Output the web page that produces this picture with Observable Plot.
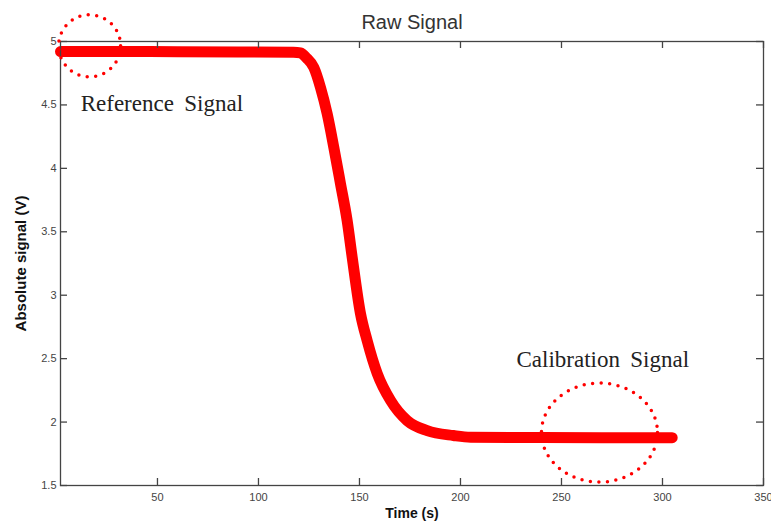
<!DOCTYPE html>
<html>
<head>
<meta charset="utf-8">
<script src="https://cdn.jsdelivr.net/npm/d3@7"></script>
<script src="https://cdn.jsdelivr.net/npm/@observablehq/plot@0.6"></script>
<style>
  html, body { margin: 0; padding: 0; background: #fff; }
  svg { display: block; }
</style>
</head>
<body>
<div id="chart"></div>
<script>
// Time (s) and absolute signal (V)
const timeS = [2, 30, 60, 90, 117.3, 120.8, 123.8, 127.4, 130.7, 134.0, 137.3, 140.6, 143.9, 146.4, 150.5, 153.8, 158.8, 165.4, 173.6, 183.5, 196.5, 205, 240, 270, 304.8];
const signalV = [4.921, 4.921, 4.92, 4.918, 4.915, 4.91, 4.87, 4.795, 4.638, 4.431, 4.165, 3.879, 3.588, 3.298, 2.855, 2.642, 2.382, 2.170, 2.012, 1.933, 1.894, 1.880, 1.878, 1.877, 1.877];

const xTicks = [50, 100, 150, 200, 250, 300, 350];
const yTicks = [1.5, 2, 2.5, 3, 3.5, 4, 4.5, 5];

// annotations
const noteText = ["Reference\u00a0\u2009Signal", "Calibration\u00a0\u2009Signal"];
const noteT = [12, 227.7];
const noteV = [4.454, 2.432];
const ringT = [16.4, 268.8];
const ringV = [4.966, 1.917];

const series = timeS.map((t, i) => ({t, v: signalV[i]}));
const notes = noteText.map((text, i) => ({text, t: noteT[i], v: noteV[i]}));
const rings = ringT.map((t, i) => ({t, v: ringV[i], i}));

function ellipseSymbol(rx, ry) {
  const k = 0.5522847498;
  return {
    draw(ctx) {
      ctx.moveTo(rx, 0);
      ctx.bezierCurveTo(rx, ry * k, rx * k, ry, 0, ry);
      ctx.bezierCurveTo(-rx * k, ry, -rx, ry * k, -rx, 0);
      ctx.bezierCurveTo(-rx, -ry * k, -rx * k, -ry, 0, -ry);
      ctx.bezierCurveTo(rx * k, -ry, rx, -ry * k, rx, 0);
      ctx.closePath();
    }
  };
}

const W = 771, H = 522;
const mL = 60, mR = 8, mT = 41, mB = 37;
const innerW = W - mL - mR, innerH = H - mT - mB;
const axisColor = "#444";
const tickLen = 7;

const chart = Plot.plot({
  width: W,
  height: H,
  marginLeft: mL,
  marginRight: mR,
  marginTop: mT,
  marginBottom: mB,
  style: {fontFamily: "'Liberation Sans', Arial, sans-serif", background: "#fff"},
  x: {domain: [2, 350], axis: null},
  y: {domain: [1.5, 5], axis: null},
  marks: [
    Plot.line(series, {x: "t", y: "v", curve: "monotone-x", stroke: "#ff0000", strokeWidth: 11, strokeLinecap: "round", strokeLinejoin: "round"}),
    Plot.frame({stroke: axisColor, strokeWidth: 1.3}),
    Plot.tickX(xTicks, {x: d => d, stroke: axisColor, strokeWidth: 1.3, insetTop: innerH - tickLen}),
    Plot.tickX(xTicks, {x: d => d, stroke: axisColor, strokeWidth: 1.3, insetBottom: innerH - tickLen}),
    Plot.tickY(yTicks, {y: d => d, stroke: axisColor, strokeWidth: 1.3, insetRight: innerW - tickLen}),
    Plot.tickY(yTicks, {y: d => d, stroke: axisColor, strokeWidth: 1.3, insetLeft: innerW - tickLen}),
    Plot.text(xTicks, {x: d => d, text: d => String(d), frameAnchor: "bottom", dy: 12, lineAnchor: "middle", fontSize: 11, fill: "#444"}),
    Plot.text(yTicks, {y: d => d, text: d => String(d), frameAnchor: "left", dx: -4, textAnchor: "end", lineAnchor: "middle", fontSize: 11, fill: "#444"}),
    Plot.text(["Raw Signal"], {frameAnchor: "top", dy: -12.7, lineAnchor: "bottom", fontSize: 20, fill: "#333"}),
    Plot.text(["Time (s)"], {frameAnchor: "bottom", dy: 28, lineAnchor: "middle", textAnchor: "middle", fontSize: 14, fontWeight: "bold", fill: "#111"}),
    Plot.text(["Absolute signal (V)"], {frameAnchor: "left", dx: -39, rotate: -90, lineAnchor: "middle", textAnchor: "middle", fontSize: 15, fontWeight: "bold", fill: "#111"}),
    Plot.text(notes, {x: "t", y: "v", text: "text", textAnchor: "start", lineAnchor: "bottom", fontSize: 23, fontFamily: "'Liberation Serif', 'Times New Roman', serif", fill: "#222"}),
    Plot.dot(rings.filter(d => d.i === 0), {x: "t", y: "v", symbol: ellipseSymbol(31, 31), r: 31, fill: "none", stroke: "#ff0000", strokeWidth: 3.5, strokeDasharray: "0 8.5", strokeLinecap: "round"}),
    Plot.dot(rings.filter(d => d.i === 1), {x: "t", y: "v", symbol: ellipseSymbol(58, 49.5), r: 50, fill: "none", stroke: "#ff0000", strokeWidth: 3.5, strokeDasharray: "0 8.5", strokeLinecap: "round"})
  ]
});

document.getElementById("chart").appendChild(chart);
</script>
</body>
</html>
